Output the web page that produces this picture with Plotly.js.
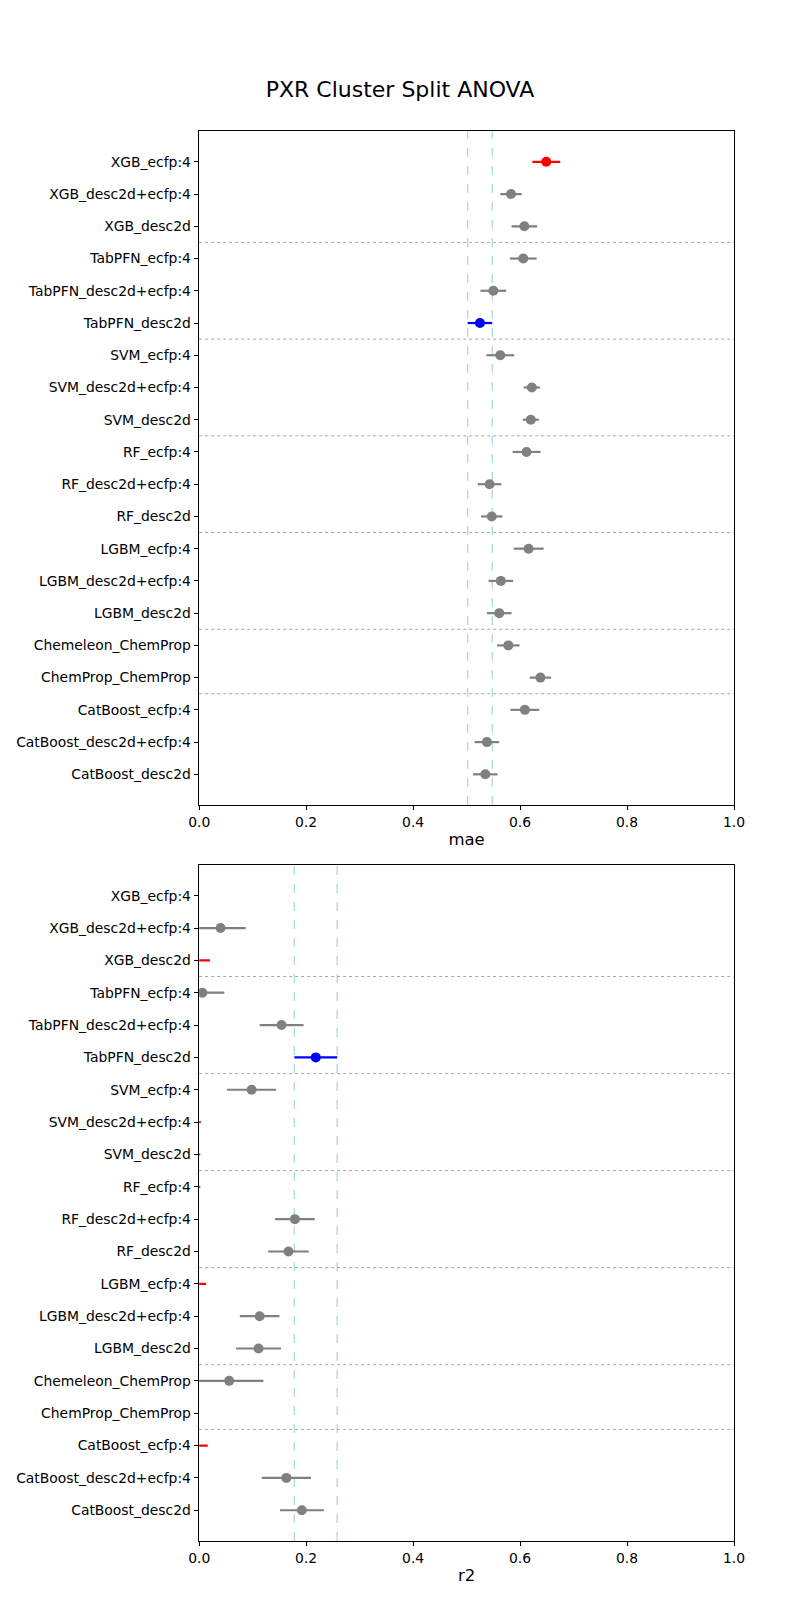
<!DOCTYPE html>
<html>
<head>
<meta charset="utf-8">
<script src="https://cdn.plot.ly/plotly-3.0.1.min.js"></script>
<style>html,body{margin:0;padding:0;background:#fff;}#chart{width:800px;height:1600px;}</style>
</head>
<body>
<div id="chart"></div>
<script>
// ---- data ----
const models = [
  'XGB_ecfp:4','XGB_desc2d+ecfp:4','XGB_desc2d',
  'TabPFN_ecfp:4','TabPFN_desc2d+ecfp:4','TabPFN_desc2d',
  'SVM_ecfp:4','SVM_desc2d+ecfp:4','SVM_desc2d',
  'RF_ecfp:4','RF_desc2d+ecfp:4','RF_desc2d',
  'LGBM_ecfp:4','LGBM_desc2d+ecfp:4','LGBM_desc2d',
  'Chemeleon_ChemProp','ChemProp_ChemProp',
  'CatBoost_ecfp:4','CatBoost_desc2d+ecfp:4','CatBoost_desc2d'
];
const groups = ['XGB','XGB','XGB','TabPFN','TabPFN','TabPFN','SVM','SVM','SVM','RF','RF','RF',
  'LGBM','LGBM','LGBM','ChemProp','ChemProp','CatBoost','CatBoost','CatBoost'];

const maeMean = [0.649,0.583,0.608, 0.606,0.550,0.525, 0.563,0.622,0.620, 0.612,0.543,0.547,
  0.616,0.564,0.561, 0.578,0.638, 0.609,0.538,0.535];
const maeErr  = [0.026,0.020,0.024, 0.025,0.024,0.023, 0.026,0.015,0.015, 0.026,0.022,0.020,
  0.028,0.023,0.023, 0.021,0.020, 0.027,0.023,0.023];
const maeColor = ['red','gray','gray','gray','gray','blue','gray','gray','gray','gray','gray','gray',
  'gray','gray','gray','gray','gray','gray','gray','gray'];

const r2Mean = [-0.150,0.040,-0.020, 0.006,0.154,0.218, 0.098,-0.040,-0.040, -0.050,0.179,0.167,
  -0.030,0.113,0.111, 0.056,-0.100, -0.030,0.163,0.192];
const r2Err  = [0.050,0.047,0.040, 0.041,0.041,0.040, 0.046,0.043,0.042, 0.052,0.037,0.038,
  0.043,0.037,0.042, 0.064,0.050, 0.046,0.046,0.041];
const r2Color = ['gray','gray','red','gray','gray','blue','gray','red','red','red','gray','gray',
  'red','gray','gray','gray','gray','red','gray','gray'];

const xTicks = [0,0.2,0.4,0.6,0.8,1.0];
const colorMap = {gray:'#808080', red:'#ff0000', blue:'#0000ff'};

// ---- build ----
const idx = models.map((_, i) => i);
const traces = [];
function addPanel(mean, err, colors, xa, ya) {
  ['gray','red','blue'].forEach(c => {
    const sel = idx.filter(i => colors[i] === c);
    if (!sel.length) return;
    traces.push({
      type:'scatter', mode:'markers', xaxis:xa, yaxis:ya, cliponaxis:true,
      x: sel.map(i => mean[i]), y: sel,
      marker:{color:colorMap[c], size:10, line:{width:0}},
      error_x:{type:'data', array: sel.map(i => err[i]), color:colorMap[c], thickness:2.2, width:0},
      showlegend:false, hoverinfo:'skip'
    });
  });
}
addPanel(maeMean, maeErr, maeColor, 'x', 'y');
addPanel(r2Mean, r2Err, r2Color, 'x2', 'y2');

const shapes = [];
function addShapes(mean, err, colors, xa, ya) {
  const best = colors.indexOf('blue');
  [mean[best]-err[best], mean[best]+err[best]].forEach(v => shapes.push({
    type:'line', xref:xa, yref:ya+' domain', x0:v, x1:v, y0:0, y1:1,
    line:{color:'#add8e6', width:1.3, dash:'dash'}, layer:'below'
  }));
  for (let i = 1; i < groups.length; i++) {
    if (groups[i] !== groups[i-1]) shapes.push({
      type:'line', xref:xa+' domain', yref:ya, x0:0, x1:1, y0:i-0.5, y1:i-0.5,
      line:{color:'rgba(120,120,120,0.75)', width:0.9, dash:'dot'}, layer:'below'
    });
  }
}
addShapes(maeMean, maeErr, maeColor, 'x', 'y');
addShapes(r2Mean, r2Err, r2Color, 'x2', 'y2');

const font = {family:'DejaVu Sans, sans-serif', size:13.9, color:'#000'};
function xAxis(title, anchor) {
  return {
    domain:[0.249,0.9175], anchor:anchor, range:[0,1], tickvals:xTicks, tickformat:'.1f',
    ticks:'outside', ticklen:4.5, tickwidth:1, tickcolor:'#000', showgrid:false, zeroline:false,
    showline:true, linecolor:'#000', linewidth:1, mirror:true, tickfont:font,
    title:{text:title, font:{family:font.family, size:16.5, color:'#000'}, standoff:4}
  };
}
function yAxis(dom, anchor) {
  return {
    domain:dom, anchor:anchor, range:[models.length-1+0.95, -0.95], tickvals:idx, ticktext:models,
    ticks:'outside', ticklen:4.5, tickwidth:1, tickcolor:'#000', showgrid:false, zeroline:false,
    showline:true, linecolor:'#000', linewidth:1, mirror:true, tickfont:font, automargin:false
  };
}

const layout = {
  width:800, height:1600, margin:{l:0,r:0,t:0,b:0},
  paper_bgcolor:'#fff', plot_bgcolor:'#fff', font:font,
  title:{text:'PXR Cluster Split ANOVA', x:0.5, xanchor:'center', y:0.944, yanchor:'middle',
    font:{family:font.family, size:22, color:'#000'}},
  xaxis:xAxis('mae','y'), yaxis:yAxis([0.4969,0.918],'x'),
  xaxis2:xAxis('r2','y2'), yaxis2:yAxis([0.0369,0.4594],'x2'),
  shapes:shapes
};
Plotly.newPlot('chart', traces, layout, {staticPlot:true, displayModeBar:false});
</script>
</body>
</html>
